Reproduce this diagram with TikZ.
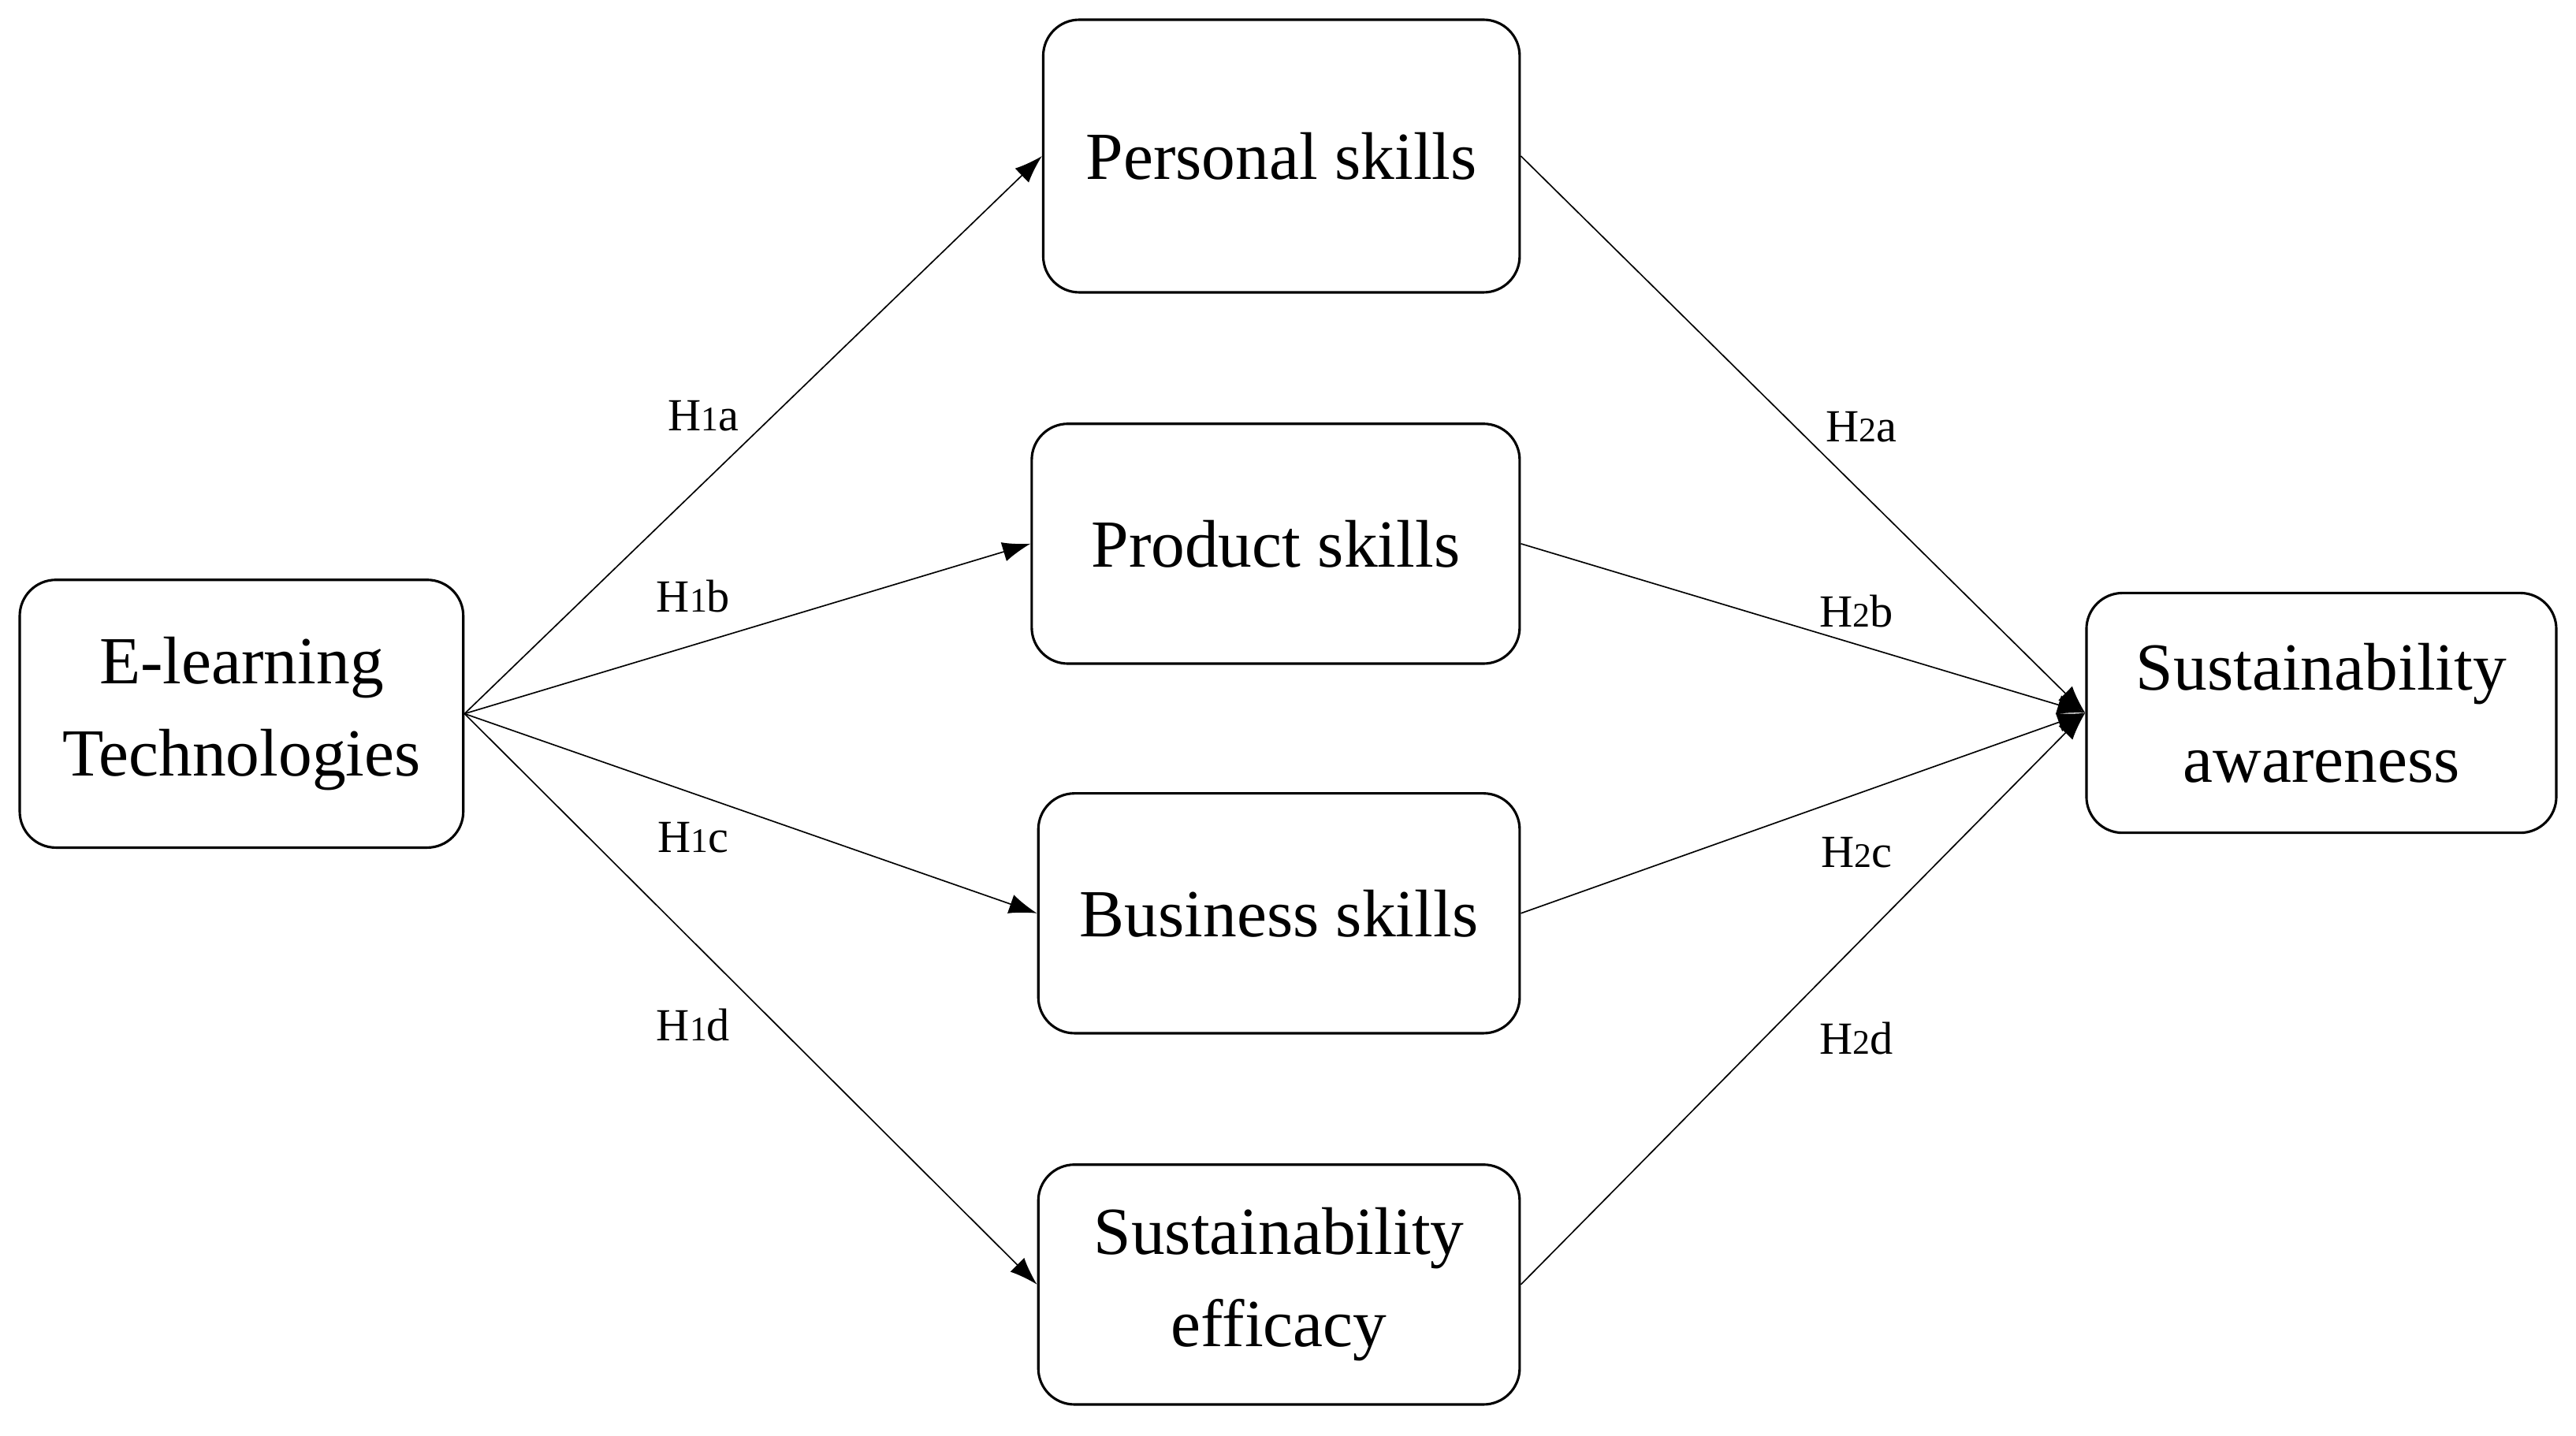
\documentclass[tikz,border=0pt]{standalone}
\usepackage{fontspec}
\setmainfont{Liberation Serif}
\usetikzlibrary{arrows.meta}
\tikzset{
 box/.style={draw, rounded corners=22pt, line width=1.5pt, align=center, inner sep=0pt,
   font=\fontsize{41}{56}\selectfont},
 conn/.style={line width=0.8pt, -{Latex[length=17pt,width=12pt]}},
 lab/.style={font=\fontsize{28}{30}\selectfont}
}
\newcommand{\hyp}[2]{H{\fontsize{21}{22}\selectfont #1}#2}
\begin{document}
\begin{tikzpicture}[x=1pt,y=-1pt]
\useasboundingbox (0,0) rectangle (1568,874);
\node[box, minimum width=270pt, minimum height=163pt] (el) at (147,434.5) {E-learning\\Technologies};
\node[box, minimum width=290pt, minimum height=166pt] (ps) at (780,95) {Personal skills};
\node[box, minimum width=297pt, minimum height=146pt] (pr) at (776.5,331) {Product skills};
\node[box, minimum width=293pt, minimum height=146pt] (bs) at (778.5,556) {Business skills};
\node[box, minimum width=293pt, minimum height=146pt] (se) at (778.5,782) {Sustainability\\efficacy};
\node[box, minimum width=286pt, minimum height=146pt] (sa) at (1413,434) {Sustainability\\awareness};
\coordinate (o) at (el.east);
\draw[conn] (o) -- (ps.west);
\draw[conn] (o) -- (pr.west);
\draw[conn] (o) -- (bs.west);
\draw[conn] (o) -- (se.west);
\draw[conn] (ps.east) -- (sa.west);
\draw[conn] (pr.east) -- (sa.west);
\draw[conn] (bs.east) -- (sa.west);
\draw[conn] (se.east) -- (sa.west);
\node[lab] (l1) at (428,253) {\hyp{1}{a}};
\node[lab] (l2) at (422,363) {\hyp{1}{b}};
\node[lab] (l3) at (422,510) {\hyp{1}{c}};
\node[lab] (l4) at (422,624) {\hyp{1}{d}};
\node[lab] (l5) at (1133,260) {\hyp{2}{a}};
\node[lab] (l6) at (1130,372) {\hyp{2}{b}};
\node[lab] (l7) at (1130,519) {\hyp{2}{c}};
\node[lab] (l8) at (1130,632) {\hyp{2}{d}};
\end{tikzpicture}
\end{document}
